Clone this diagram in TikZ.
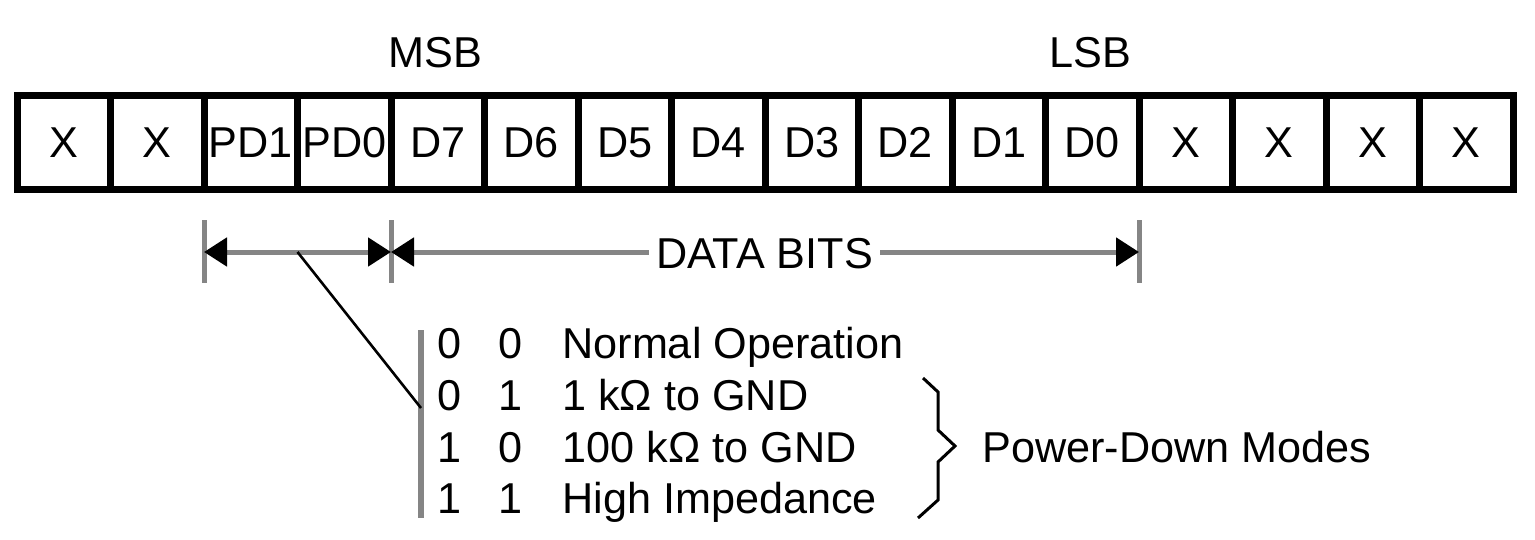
\documentclass[tikz,border=0pt]{standalone}
\usepackage{fontspec}
\setmainfont{Liberation Sans}
\usetikzlibrary{arrows.meta}
\definecolor{dimgray}{HTML}{858585}
\begin{document}
\begin{tikzpicture}[x=0.5pt,y=-0.5pt,
  font=\fontsize{21.6}{26}\selectfont,
  cell/.style={draw=black, line width=3.5pt, minimum width=46.75pt,
    minimum height=46.5pt, inner sep=0pt, outer sep=0pt},
  dimline/.style={draw=dimgray, line width=2.5pt},
  dimtip/.style={>={Triangle[length=11.5pt,width=14pt,color=black]}},
  tick/.style={draw=dimgray, line width=2.5pt},
  lbl/.style={inner sep=0pt, anchor=base},
  txt/.style={inner sep=0pt, anchor=base west},
  leader/.style={draw=black, line width=1.3pt},
  bracket/.style={draw=black, line width=1.5pt, line join=miter},
]
\useasboundingbox (0,0) rectangle (1535,540);

% register cells
\foreach \t [count=\i] in {X,X,PD1,PD0,D7,D6,D5,D4,D3,D2,D1,D0,X,X,X,X}
  \node[cell] (c\i) at ({17+93.5*(\i-0.5)},142.5) {\t};

% bit labels
\node[lbl] (msb) at (435.75,68) {MSB};
\node[lbl] (lsb) at (1090.25,68) {LSB};

% dimension lines
\coordinate (t1) at (204,252);
\coordinate (t2) at (391,252);
\coordinate (t3) at (1139,252);
\foreach \p in {t1,t2,t3}
  \draw[tick] (\p) ++(0,-32) -- ++(0,63);
\draw[dimline, dimtip, <->] (t1) -- (t2);
\node[inner xsep=3.5pt, inner ysep=0pt, fill=white, anchor=base] (databits) at (764.5,268) {DATA BITS};
\draw[dimline, dimtip, <-] (t2) -- (t2 -| databits.west);
\draw[dimline, dimtip, ->] (databits.east |- t3) -- (t3);

% leader to mode table
\coordinate (pdmid) at (297.5,252);
\coordinate (barT) at (421,330);
\coordinate (barB) at (421,518);
\coordinate (barJ) at (421,408);
\draw[dimline, line width=3pt] (barT) -- (barB);
\draw[leader] (pdmid) -- (barJ);

% mode table
\node[lbl] (a1) at (450,358) {0};
\node[lbl] (b1) at (511,358) {0};
\node[txt] (m1) at (562,358) {Normal Operation};
\node[lbl] (a2) at (450,410) {0};
\node[lbl] (b2) at (511,410) {1};
\node[txt] (m2) at (562,410) {1 kΩ to GND};
\node[lbl] (a3) at (450,462) {1};
\node[lbl] (b3) at (511,462) {0};
\node[txt] (m3) at (562,462) {100 kΩ to GND};
\node[lbl] (a4) at (450,513) {1};
\node[lbl] (b4) at (511,513) {1};
\node[txt] (m4) at (562,513) {High Impedance};

% brace
\draw[bracket] (923,378) -- (938,392) -- (938,430) -- (955,446)
  -- (938,462) -- (938,500) -- (918,518);
\node[txt] (pdm) at (982,462) {Power-Down Modes};
\end{tikzpicture}
\end{document}
